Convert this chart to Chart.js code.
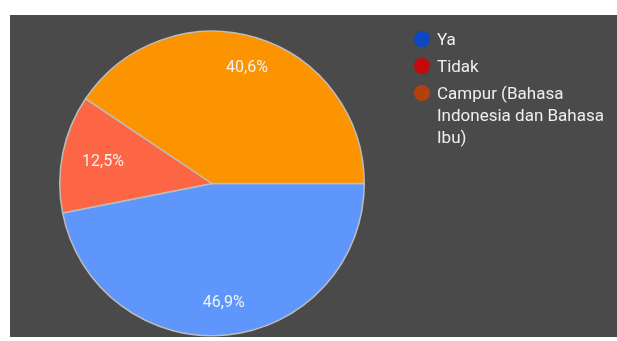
<!DOCTYPE html>
<html>
<head>
<meta charset="utf-8">
<script src="https://cdn.jsdelivr.net/npm/chart.js@4/dist/chart.umd.min.js"></script>
<style>
  body { margin: 0; background: #fff; font-family: Roboto, sans-serif; overflow: hidden; }
  #panel { position: absolute; left: 10px; top: 15px; width: 607px; height: 322px; background: #4a4a4a; }
  #pie { position: absolute; left: 0; top: 0; }
  #legend { position: absolute; left: 404px; top: 13px; list-style: none; margin: 0; padding: 0; }
  #legend li { position: relative; padding-left: 23px; width: 178px; font-size: 17px; line-height: 22px; color: #efefef; margin-bottom: 5px; }
  #legend .dot { position: absolute; left: 0; top: 3px; width: 16px; height: 16px; border-radius: 50%; }
</style>
</head>
<body>
<div id="panel">
  <canvas id="pie" width="607" height="322"></canvas>
  <ul id="legend"></ul>
</div>
<script>
const labels = ['Ya', 'Tidak', 'Campur (Bahasa Indonesia dan Bahasa Ibu)']
const percents = [46.9, 12.5, 40.6]
const sliceColors = ['#5f96fb', '#fc6644', '#fb9400']
const legendColors = ['#0d47c4', '#c40a0a', '#b3400e']

// legend on the right
let legend = document.getElementById('legend')
labels.forEach((label, i) => {
  let li = document.createElement('li')
  let dot = document.createElement('span')
  dot.className = 'dot'
  dot.style.background = legendColors[i]
  li.appendChild(dot)
  li.appendChild(document.createTextNode(label))
  legend.appendChild(li)
})

// percent text inside each slice
const sliceLabels = {
  id: 'sliceLabels',
  afterDatasetsDraw(chart) {
    let ctx = chart.ctx
    let meta = chart.getDatasetMeta(0)
    ctx.save()
    ctx.font = '16px Roboto, sans-serif'
    ctx.fillStyle = '#f2f2f2'
    ctx.textAlign = 'center'
    ctx.textBaseline = 'middle'
    meta.data.forEach((arc, i) => {
      let mid = (arc.startAngle + arc.endAngle) / 2
      let r = arc.outerRadius * (i === 1 ? 0.73 : 0.79)
      let x = arc.x + Math.cos(mid) * r
      let y = arc.y + Math.sin(mid) * r
      ctx.fillText(percents[i].toString().replace('.', ',') + '%', x, y)
    })
    ctx.restore()
  }
}

let ctx = document.getElementById('pie')
let myPie = new Chart(ctx, {
  type: 'pie',
  data: {
    labels,
    datasets: [{
      data: percents,
      backgroundColor: sliceColors,
      borderColor: '#bdbdbd',
      borderWidth: 1.5
    }]
  },
  options: {
    responsive: false,
    animation: false,
    rotation: 90,
    layout: { padding: { left: 49, right: 252, top: 15, bottom: 0 } },
    plugins: {
      legend: { display: false },
      tooltip: { enabled: false }
    }
  },
  plugins: [sliceLabels]
})
</script>
</body>
</html>
